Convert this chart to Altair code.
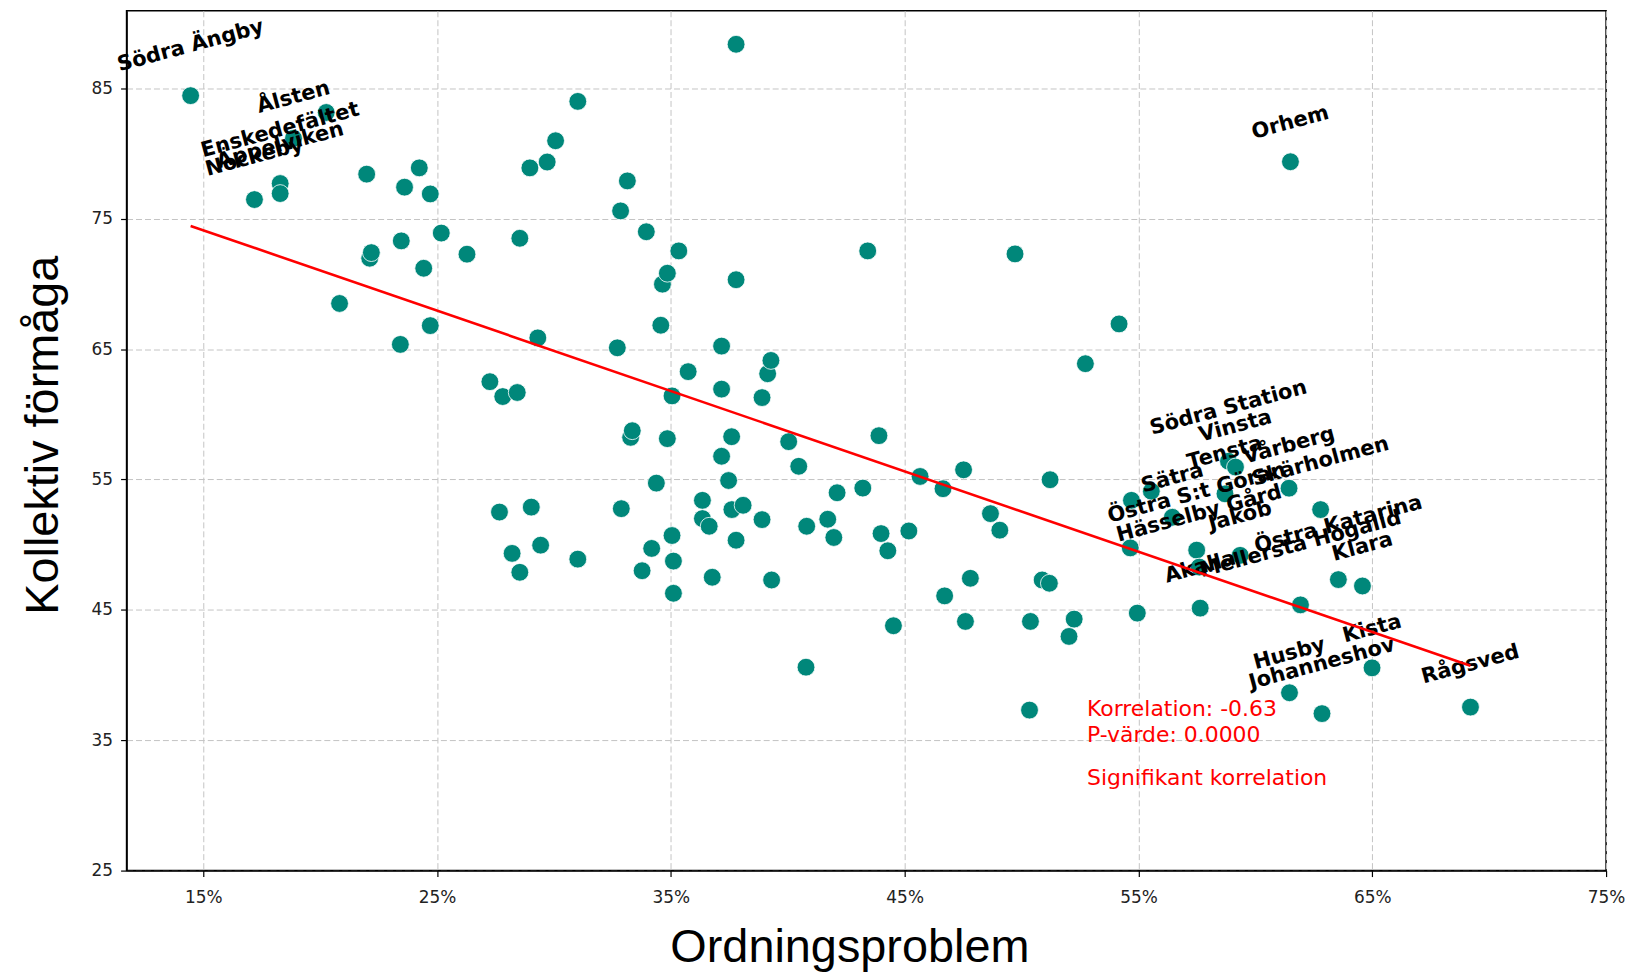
import altair as alt
import pandas as pd

# Ordningsproblem (%) per area
ordningsproblem = [
    14.46, 17.19, 18.29, 18.29, 18.86, 20.26, 20.83, 21.99, 22.12, 22.19,
    23.43, 23.47, 23.61, 24.24, 24.43, 24.71, 24.71, 25.18, 26.28, 27.26,
    27.67, 27.81, 28.21, 28.43, 28.54, 28.54, 28.97, 29.03, 29.31, 29.43,
    29.71, 30.07, 31.02, 31.02, 32.71, 32.85, 32.88, 33.14, 33.28, 33.35,
    33.77, 33.95, 34.18, 34.38, 34.57, 34.64, 34.85, 34.85, 35.05, 35.05,
    35.11, 35.11, 35.34, 35.74, 36.35, 36.35, 36.64, 36.77, 37.17, 37.17,
    37.17, 37.47, 37.60, 37.61, 37.79, 37.79, 37.79, 38.09, 38.90, 38.90,
    39.14, 39.28, 39.31, 40.04, 40.47, 40.78, 40.81, 41.71, 41.97, 42.11,
    43.21, 43.42, 43.90, 43.99, 44.28, 44.52, 45.18, 45.66, 46.64, 46.71,
    47.52, 47.60, 47.81, 48.67, 49.07, 49.72, 50.34, 50.38, 50.88, 51.19,
    51.22, 52.03, 52.25, 52.73, 54.17, 54.70, 54.65, 54.95, 55.55, 56.45,
    57.49, 57.60, 57.64, 58.70, 58.85, 59.15, 59.35, 61.44, 61.46, 61.50,
    61.93, 62.79, 62.85, 63.55, 64.58, 64.99, 69.20,
]

# Kollektiv förmåga per area
kollektiv_formaga = [
    84.44, 76.47, 77.70, 76.93, 81.17, 83.15, 68.50, 78.42, 71.97, 72.40,
    65.36, 73.30, 77.42, 78.90, 71.20, 76.90, 66.80, 73.90, 72.28, 62.50,
    52.50, 61.36, 49.33, 61.67, 73.50, 47.88, 78.90, 52.88, 65.86, 49.96,
    79.35, 80.98, 84.00, 48.89, 65.10, 75.60, 52.76, 77.90, 58.23, 58.74,
    48.00, 74.00, 49.71, 54.72, 66.83, 69.98, 70.82, 58.13, 61.41, 50.70,
    48.74, 46.27, 72.53, 63.27, 53.40, 52.00, 51.41, 47.50, 65.23, 61.93,
    56.78, 54.92, 58.28, 52.69, 88.38, 70.32, 50.34, 53.02, 61.28, 51.92,
    63.11, 64.13, 47.29, 57.90, 56.01, 40.60, 51.41, 51.95, 50.55, 53.98,
    54.34, 72.53, 58.36, 50.85, 49.53, 43.78, 51.05, 55.23, 54.29, 46.07,
    55.74, 44.11, 47.42, 52.38, 51.11, 72.30, 37.31, 44.11, 47.29, 47.04,
    54.98, 42.96, 44.29, 63.88, 66.93, 53.40, 49.75, 44.75, 54.10, 52.10,
    49.58, 48.28, 45.13, 53.90, 56.40, 55.95, 49.18, 54.33, 38.64, 79.37,
    45.38, 52.69, 37.04, 47.32, 46.83, 40.55, 37.54,
]

# Area names (only the annotated areas carry a label)
omrade = [
    "Södra Ängby", "Nockeby", "Enskedefältet", "Äppelviken", "Ålsten", "", "", "", "", "",
    "", "", "", "", "", "", "", "", "", "",
    "", "", "", "", "", "", "", "", "", "",
    "", "", "", "", "", "", "", "", "", "",
    "", "", "", "", "", "", "", "", "", "",
    "", "", "", "", "", "", "", "", "", "",
    "", "", "", "", "", "", "", "", "", "",
    "", "", "", "", "", "", "", "", "", "",
    "", "", "", "", "", "", "", "", "", "",
    "", "", "", "", "", "", "", "", "", "",
    "", "", "", "", "", "", "", "", "", "Sätra",
    "Östra S:t Göran", "Hässelby Gård", "Akalla", "Tensta", "Södra Station", "Vinsta", "Jakob", "Vårberg", "Husby", "Orhem",
    "Mellersta Högalid", "Skärholmen", "Johanneshov", "Östra Katarina", "Klara", "Kista", "Rågsved",
]

stat_text = ["Korrelation: -0.63", "P-värde: 0.0000", "Signifikant korrelation"]
stat_y = [37.38, 35.39, 32.13]

df = pd.DataFrame({"x": ordningsproblem, "y": kollektiv_formaga, "name": omrade})
stats = pd.DataFrame({"text": stat_text, "y": stat_y})
stats["x"] = 52.8

W, H = 1485, 863
PX_PER_UNIT = H / (90.95 - 25)

xscale = alt.Scale(domain=[11.72, 75], nice=False, zero=False)
yscale = alt.Scale(domain=[25, 90.95], nice=False, zero=False)
xaxis = alt.Axis(values=[15, 25, 35, 45, 55, 65, 75], labelExpr="datum.value + '%'",
                 title="Ordningsproblem", titlePadding=19, labelPadding=13,
                 labelFlush=False, labelOverlap=False, titleX=W / 2 - 17)
yaxis = alt.Axis(values=[25, 35, 45, 55, 65, 75, 85], title="Kollektiv förmåga",
                 titlePadding=24, labelPadding=8, labelFlush=False, labelOverlap=False,
                 titleY=H / 2 - 6)

points = alt.Chart(df).mark_circle(size=320, color="#00877a", opacity=1,
                                   stroke="white", strokeWidth=0.8).encode(
    x=alt.X("x:Q", scale=xscale, axis=xaxis),
    y=alt.Y("y:Q", scale=yscale, axis=yaxis),
)

labels = alt.Chart(df).transform_filter("datum.name != ''").transform_calculate(
    ly=f"datum.y + (30 + 1.8 * length(datum.name)) / {PX_PER_UNIT}"
).mark_text(font="DejaVu Sans", fontWeight="bold", fontSize=21, angle=345,
            align="center", baseline="middle", color="black").encode(
    x=alt.X("x:Q", scale=xscale, axis=xaxis),
    y=alt.Y("ly:Q", scale=yscale, axis=yaxis),
    text="name:N",
)

line = alt.Chart(df).transform_regression("x", "y").mark_line(
    color="#ff0000", strokeWidth=2.6).encode(
    x=alt.X("x:Q", scale=xscale, axis=xaxis),
    y=alt.Y("y:Q", scale=yscale, axis=yaxis),
)

stat_marks = alt.Chart(stats).mark_text(font="DejaVu Sans", fontSize=22, color="#ff0000",
                                        align="left", baseline="middle").encode(
    x=alt.X("x:Q", scale=xscale, axis=xaxis),
    y=alt.Y("y:Q", scale=yscale, axis=yaxis),
    text="text:N",
)

chart = alt.layer(points, labels, line, stat_marks).properties(
    width=W, height=H,
    autosize=alt.AutoSizeParams(type="none"),
    padding={"left": 119, "top": 1, "right": 20, "bottom": 100},
    background="white",
).configure_view(
    stroke="black", strokeWidth=1.5
).configure_axis(
    domainColor="black", domainWidth=1.5,
    tickColor="black", tickSize=6, tickWidth=1.2,
    gridColor="#c4c4c4", gridDash=[6, 3], gridWidth=1,
    labelFont="DejaVu Sans", labelFontSize=17, labelColor="#222222",
    titleFont="Liberation Sans", titleFontSize=47, titleFontWeight="normal", titleColor="black",
)

chart.save("out.html", embed_options={"renderer": "svg", "actions": False})
